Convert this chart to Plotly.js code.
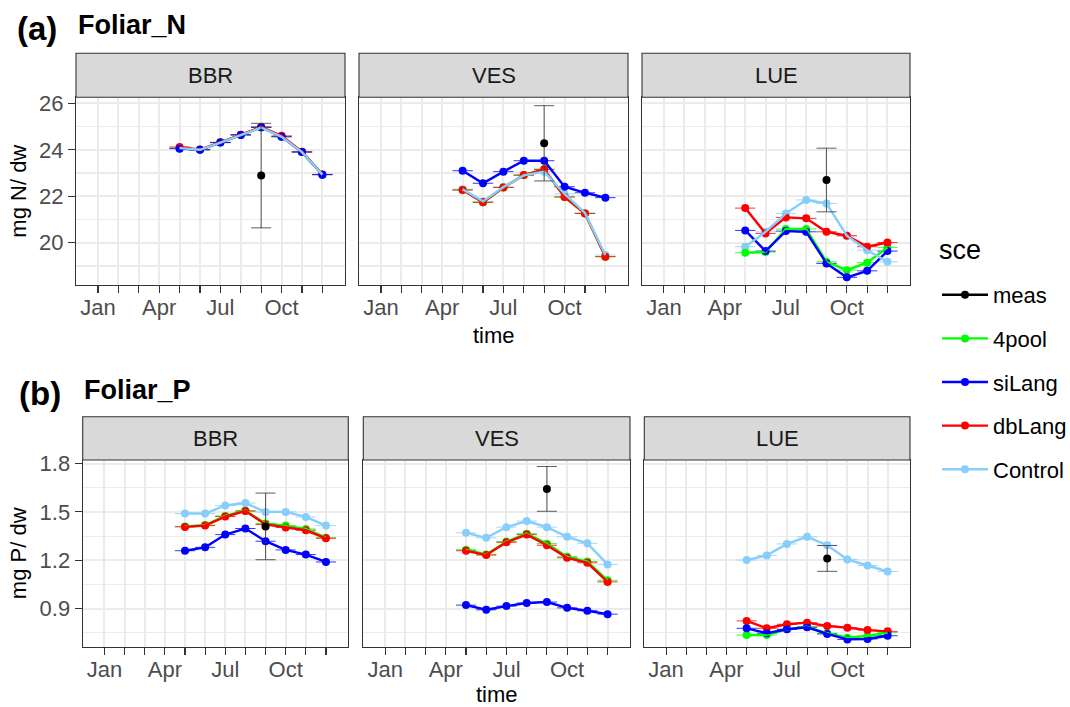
<!DOCTYPE html>
<html>
<head>
<meta charset="utf-8">
<script src="https://cdn.plot.ly/plotly-3.0.1.min.js"></script>
<style>html,body{margin:0;padding:0;background:#fff;overflow:hidden;}#chart{width:1090px;height:707px;}</style>
</head>
<body>
<div id="chart"></div>
<script>
// ---------- data ----------
const months = [5, 6, 7, 8, 9, 10, 11, 12];
const measMonth = [9];
const tickMonths = [1, 2, 3, 4, 5, 6, 7, 8, 9, 10, 11, 12];
const tickLabels = ['Jan', '', '', 'Apr', '', '', 'Jul', '', '', 'Oct', '', ''];
const sites = ['BBR', 'VES', 'LUE'];
const scenarios = ['meas', '4pool', 'siLang', 'dbLang', 'Control'];
const variables = ['Foliar_N', 'Foliar_P'];
const panelTags = ['(a)', '(b)'];
const yTitles = ['mg N/ dw', 'mg P/ dw'];
const xTitle = 'time';
const legendTitle = 'sce';

// Foliar N
const N_BBR_meas = [22.89], N_BBR_meas_sd = [2.25];
const N_BBR_4pool   = [24.07, 24.00, 24.31, 24.64, 24.97, 24.57, 23.90, 22.93];
const N_BBR_siLang  = [24.05, 24.00, 24.31, 24.64, 24.97, 24.56, 23.90, 22.93];
const N_BBR_dbLang  = [24.12, 24.01, 24.32, 24.65, 24.98, 24.60, 23.92, 22.94];
const N_BBR_Control = [24.07, 24.00, 24.31, 24.64, 24.96, 24.56, 23.90, 22.93];

const N_VES_meas = [24.28], N_VES_meas_sd = [1.62];
const N_VES_4pool   = [22.27, 21.74, 22.38, 22.91, 23.16, 21.97, 21.26, 19.40];
const N_VES_siLang  = [23.10, 22.56, 23.06, 23.53, 23.53, 22.41, 22.15, 21.94];
const N_VES_dbLang  = [22.27, 21.74, 22.38, 22.91, 23.16, 21.97, 21.26, 19.40];
const N_VES_Control = [22.30, 21.78, 22.40, 22.90, 23.06, 22.10, 21.28, 19.47];

const N_LUE_meas = [22.70], N_LUE_meas_sd = [1.37];
const N_LUE_4pool   = [19.57, 19.60, 20.59, 20.59, 19.18, 18.82, 19.14, 19.80];
const N_LUE_siLang  = [20.53, 19.64, 20.50, 20.47, 19.11, 18.51, 18.79, 19.64];
const N_LUE_dbLang  = [21.49, 20.40, 21.09, 21.05, 20.47, 20.30, 19.83, 20.01];
const N_LUE_Control = [19.83, 20.47, 21.26, 21.84, 21.69, 20.30, 19.68, 19.18];

// Foliar P
const P_BBR_meas = [1.41], P_BBR_meas_sd = [0.207];
const P_BBR_4pool   = [1.410, 1.418, 1.475, 1.508, 1.428, 1.415, 1.394, 1.340];
const P_BBR_siLang  = [1.259, 1.280, 1.359, 1.397, 1.318, 1.264, 1.235, 1.189];
const P_BBR_dbLang  = [1.407, 1.415, 1.471, 1.505, 1.422, 1.403, 1.386, 1.336];
const P_BBR_Control = [1.490, 1.490, 1.540, 1.555, 1.500, 1.500, 1.469, 1.415];

const P_VES_meas = [1.643], P_VES_meas_sd = [0.139];
const P_VES_4pool   = [1.265, 1.236, 1.316, 1.365, 1.303, 1.222, 1.192, 1.075];
const P_VES_siLang  = [0.921, 0.892, 0.915, 0.934, 0.940, 0.904, 0.886, 0.865];
const P_VES_dbLang  = [1.259, 1.232, 1.311, 1.359, 1.293, 1.215, 1.184, 1.065];
const P_VES_Control = [1.370, 1.339, 1.405, 1.443, 1.405, 1.345, 1.305, 1.174];

const P_LUE_meas = [1.211], P_LUE_meas_sd = [0.08];
const P_LUE_4pool   = [0.735, 0.735, 0.771, 0.787, 0.746, 0.719, 0.729, 0.750];
const P_LUE_siLang  = [0.777, 0.746, 0.771, 0.783, 0.742, 0.708, 0.711, 0.731];
const P_LUE_dbLang  = [0.823, 0.777, 0.802, 0.812, 0.791, 0.781, 0.766, 0.758];
const P_LUE_Control = [1.201, 1.230, 1.301, 1.345, 1.293, 1.205, 1.167, 1.130];

const yTicksN = [20, 22, 24, 26], yMinorN = [19, 21, 23, 25];
const yTicksP = [0.9, 1.2, 1.5, 1.8], yMinorP = [0.75, 1.05, 1.35, 1.65];

// ---------- styling ----------
const FONT = 'Liberation Sans, Arial, Helvetica, sans-serif';
const colors = {meas: '#000000', '4pool': '#00FF00', siLang: '#0000FF', dbLang: '#FF0000', Control: '#87CEFA'};
const LW = 2.4, MS = 8;

const panels = [
  {row: 0, col: 0, meas: N_BBR_meas, sd: N_BBR_meas_sd, model: {'4pool': N_BBR_4pool, siLang: N_BBR_siLang, dbLang: N_BBR_dbLang, Control: N_BBR_Control}},
  {row: 0, col: 1, meas: N_VES_meas, sd: N_VES_meas_sd, model: {'4pool': N_VES_4pool, siLang: N_VES_siLang, dbLang: N_VES_dbLang, Control: N_VES_Control}},
  {row: 0, col: 2, meas: N_LUE_meas, sd: N_LUE_meas_sd, model: {'4pool': N_LUE_4pool, siLang: N_LUE_siLang, dbLang: N_LUE_dbLang, Control: N_LUE_Control}},
  {row: 1, col: 0, meas: P_BBR_meas, sd: P_BBR_meas_sd, model: {'4pool': P_BBR_4pool, siLang: P_BBR_siLang, dbLang: P_BBR_dbLang, Control: P_BBR_Control}},
  {row: 1, col: 1, meas: P_VES_meas, sd: P_VES_meas_sd, model: {'4pool': P_VES_4pool, siLang: P_VES_siLang, dbLang: P_VES_dbLang, Control: P_VES_Control}},
  {row: 1, col: 2, meas: P_LUE_meas, sd: P_LUE_meas_sd, model: {'4pool': P_LUE_4pool, siLang: P_LUE_siLang, dbLang: P_LUE_dbLang, Control: P_LUE_Control}}
];

// paper is a bit wider than the 1070px view so the legend never pushes the margins
const W = 1090, H = 707;
const xDom = [
  [[76, 345], [359, 628], [642, 910]],
  [[82.7, 348.3], [363.3, 630], [644.3, 910]]
];
const yPx = [[97.3, 285], [460, 647.3]];   // top, bottom in px
const stripH = [44, 43.3];
const yRange = [[18.18, 26.26], [0.659, 1.8225]];
const xRange = [-0.08, 13.11];

const traces = [];
// legend-only entries
scenarios.forEach(s => {
  traces.push({
    x: [null], y: [null], type: 'scatter', mode: 'lines+markers', name: s,
    legendgroup: s, showlegend: true,
    line: {color: colors[s], width: LW}, marker: {color: colors[s], size: MS}
  });
});

const pointOrder = ['Control', '4pool', 'dbLang', 'siLang'];
const lineOrder = ['4pool', 'siLang', 'dbLang', 'Control'];

panels.forEach((p, i) => {
  const xa = 'x' + (i ? i + 1 : ''), ya = 'y' + (i ? i + 1 : '');
  pointOrder.forEach(s => {
    traces.push({
      x: months, y: p.model[s], xaxis: xa, yaxis: ya, type: 'scatter', mode: 'markers',
      name: s, showlegend: false, hoverinfo: 'x+y+name',
      marker: {color: colors[s], size: MS},
      error_x: {type: 'constant', value: 0.5, width: 0, thickness: 0.8, color: colors[s]}
    });
  });
  lineOrder.forEach(s => {
    traces.push({
      x: months, y: p.model[s], xaxis: xa, yaxis: ya, type: 'scatter', mode: 'lines',
      name: s, showlegend: false, hoverinfo: 'skip',
      line: {color: colors[s], width: LW}
    });
  });
  traces.push({
    x: measMonth, y: p.meas, xaxis: xa, yaxis: ya, type: 'scatter', mode: 'markers',
    name: 'meas', showlegend: false,
    marker: {color: colors.meas, size: MS},
    error_y: {type: 'data', array: p.sd, visible: true, width: 10, thickness: 0.8, color: '#333333'}
  });
});

const layout = {
  width: W, height: H,
  margin: {l: 0, r: 0, t: 0, b: 0},
  paper_bgcolor: '#ffffff', plot_bgcolor: '#ffffff',
  font: {family: FONT, color: '#000000'},
  showlegend: true,
  legend: {
    x: 937 / W, y: 1 - 274 / H, xanchor: 'left', yanchor: 'top',
    font: {size: 22, color: '#000000', family: FONT},
    tracegroupgap: 12, itemwidth: 46, traceorder: 'grouped',
    bgcolor: 'rgba(0,0,0,0)'
  },
  shapes: [], annotations: []
};

panels.forEach((p, i) => {
  const n = i ? i + 1 : '';
  const dom = xDom[p.row][p.col];
  const yp = yPx[p.row];
  layout['xaxis' + n] = {
    domain: [dom[0] / W, dom[1] / W], anchor: 'y' + n, range: xRange,
    tickmode: 'array', tickvals: tickMonths, ticktext: tickLabels,
    ticks: 'outside', ticklen: 7, tickwidth: 1.1, tickcolor: '#333333', ticklabelstandoff: -5,
    tickfont: {size: 22, color: '#4D4D4D', family: FONT},
    showgrid: true, gridcolor: '#EBEBEB', gridwidth: 2, zeroline: false,
    showline: true, mirror: true, linecolor: '#333333', linewidth: 1.1,
    fixedrange: true
  };
  layout['yaxis' + n] = {
    domain: [1 - yp[1] / H, 1 - yp[0] / H], anchor: 'x' + n, range: yRange[p.row],
    tickmode: 'array', tickvals: p.row === 0 ? yTicksN : yTicksP,
    ticktext: (p.row === 0 ? yTicksN.map(String) : yTicksP.map(v => v.toFixed(1))),
    showticklabels: p.col === 0,
    ticks: p.col === 0 ? 'outside' : '', ticklen: 7, tickwidth: 1.1, tickcolor: '#333333',
    tickfont: {size: 22, color: '#4D4D4D', family: FONT},
    showgrid: true, gridcolor: '#EBEBEB', gridwidth: 2, zeroline: false,
    minor: {tickmode: 'array', tickvals: p.row === 0 ? yMinorN : yMinorP, showgrid: true, gridcolor: '#EBEBEB', gridwidth: 1.1, ticks: ''},
    showline: true, mirror: true, linecolor: '#333333', linewidth: 1.1,
    fixedrange: true
  };
  // strip
  layout.shapes.push({
    type: 'rect', xref: 'paper', yref: 'paper',
    x0: dom[0] / W, x1: dom[1] / W,
    y0: 1 - yp[0] / H, y1: 1 - (yp[0] - stripH[p.row]) / H,
    fillcolor: '#D9D9D9', line: {color: '#333333', width: 1.1}, layer: 'above'
  });
  layout.annotations.push({
    xref: 'paper', yref: 'paper', x: (dom[0] + dom[1]) / 2 / W, y: 1 - (yp[0] - stripH[p.row] / 2) / H,
    text: sites[p.col], showarrow: false, xanchor: 'center', yanchor: 'middle',
    font: {size: 22, color: '#1A1A1A', family: FONT}
  });
});

// legend title
layout.annotations.push({
  xref: 'paper', yref: 'paper', x: 937 / W, y: 1 - 250 / H,
  text: legendTitle, showarrow: false, xanchor: 'left', yanchor: 'middle',
  font: {size: 27, color: '#000000', family: FONT}
});

// panel titles
const tagY = [28, 393];
const varY = [25, 389.5];
const tagX = [15, 17];
const varX = [75.5, 81.5];
const xTitleY = [335.6, 694.5];
[0, 1].forEach(r => {
  layout.annotations.push({
    xref: 'paper', yref: 'paper', x: tagX[r] / W, y: 1 - tagY[r] / H,
    text: '<b>' + panelTags[r] + '</b>', showarrow: false, xanchor: 'left', yanchor: 'middle',
    font: {size: 33, color: '#000000', family: FONT}
  });
  layout.annotations.push({
    xref: 'paper', yref: 'paper', x: varX[r] / W, y: 1 - varY[r] / H,
    text: '<b>' + variables[r] + '</b>', showarrow: false, xanchor: 'left', yanchor: 'middle',
    font: {size: 27, color: '#000000', family: FONT}
  });
  const yp = yPx[r];
  layout.annotations.push({
    xref: 'paper', yref: 'paper', x: 18.5 / W, y: 1 - (yp[0] + yp[1]) / 2 / H,
    text: yTitles[r], showarrow: false, textangle: -90, xanchor: 'center', yanchor: 'middle',
    font: {size: 22, color: '#000000', family: FONT}
  });
  const dom = xDom[r][1];
  layout.annotations.push({
    xref: 'paper', yref: 'paper', x: (dom[0] + dom[1]) / 2 / W, y: 1 - xTitleY[r] / H,
    text: xTitle, showarrow: false, xanchor: 'center', yanchor: 'middle',
    font: {size: 22, color: '#000000', family: FONT}
  });
});

Plotly.newPlot('chart', traces, layout, {displayModeBar: false, staticPlot: true});
</script>
</body>
</html>
